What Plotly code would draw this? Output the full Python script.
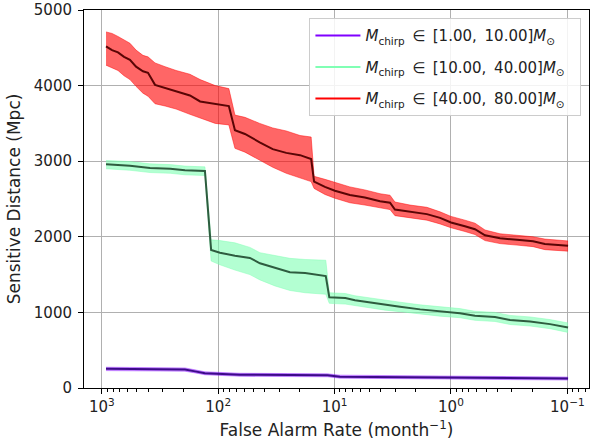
import plotly.graph_objects as go

# ---- data ----
far_low = [920, 573, 385, 258, 193, 158, 130, 65, 24.2, 11.5, 9.0, 1.0, 0.0986]
med_low = [255, 252, 250, 248, 245, 220, 195, 175, 170, 168, 150, 140, 125]
lo_low = [230, 228, 226, 224, 222, 200, 175, 155, 150, 148, 130, 120, 105]
hi_low = [275, 273, 271, 270, 266, 240, 215, 195, 190, 188, 170, 160, 145]

far_mid = [920, 573, 385, 258, 193, 130, 115, 96.6, 71.8, 53.4, 43.8, 32.5, 24.2, 17.9, 11.9,
           11.1, 8.09, 6.68, 4.96, 3.69, 2.74, 1.84, 1.24, 0.837, 0.622, 0.419, 0.311, 0.209, 0.141, 0.0986]
med_mid = [2960, 2940, 2910, 2900, 2880, 2870, 1825, 1790, 1750, 1720, 1650, 1590, 1530, 1520, 1480,
           1200, 1190, 1160, 1130, 1100, 1075, 1040, 1010, 990, 955, 940, 900, 880, 845, 800]
lo_mid = [2900, 2880, 2850, 2840, 2820, 2810, 1680, 1630, 1560, 1500, 1430, 1350, 1290, 1260, 1240,
          1120, 1110, 1090, 1060, 1030, 1010, 975, 950, 930, 895, 880, 840, 820, 785, 735]
hi_mid = [3010, 2995, 2965, 2955, 2935, 2925, 1960, 1950, 1920, 1860, 1790, 1750, 1715, 1700, 1690,
          1260, 1250, 1220, 1190, 1160, 1135, 1100, 1070, 1050, 1015, 1000, 960, 940, 905, 860]

far_high = [920, 817, 726, 644, 573, 508, 443, 401, 349, 286, 230, 175, 143, 106, 81,
            71.8, 58.9, 44.0, 34.0, 26.0, 19.8, 15.9,
            15.0, 12.1, 9.94, 7.39, 5.49, 4.07, 3.34, 3.03, 2.25, 1.61, 1.24, 1.0,
            0.759, 0.622, 0.51, 0.379, 0.271, 0.197, 0.156, 0.0986]
med_high = [4520, 4470, 4440, 4380, 4340, 4250, 4190, 4170, 4010, 3970, 3930, 3870, 3790, 3760, 3730,
            3410, 3360, 3250, 3160, 3110, 3080, 3030,
            2730, 2660, 2610, 2553, 2520, 2470, 2450, 2360, 2330, 2300, 2250, 2190,
            2140, 2100, 2020, 1980, 1960, 1940, 1905, 1880]
lo_high = [4270, 4230, 4200, 4130, 4080, 3990, 3900, 3860, 3760, 3730, 3690, 3620, 3570, 3500, 3480,
           3170, 3120, 3010, 2920, 2840, 2780, 2730,
           2640, 2560, 2510, 2450, 2420, 2380, 2360, 2280, 2250, 2220, 2170, 2120,
           2070, 2030, 1950, 1910, 1890, 1870, 1830, 1810]
hi_high = [4710, 4690, 4650, 4600, 4560, 4470, 4400, 4380, 4300, 4250, 4200, 4150, 4080, 4000, 3960,
           3610, 3580, 3500, 3440, 3400, 3340, 3320,
           2800, 2760, 2720, 2660, 2620, 2570, 2550, 2460, 2420, 2390, 2330, 2270,
           2220, 2180, 2090, 2040, 2020, 2000, 1970, 1945]

labels = ["<i>M</i><sub>chirp</sub>\u2002∈\u2002[1.00,\u2009 10.00]<i>M</i><sub>⊙</sub>\u2002\u2009",
          "<i>M</i><sub>chirp</sub>\u2002∈\u2002[10.00,\u2009 40.00]<i>M</i><sub>⊙</sub>\u2002\u2009",
          "<i>M</i><sub>chirp</sub>\u2002∈\u2002[40.00,\u2009 80.00]<i>M</i><sub>⊙</sub>\u2002\u2009"]
x_tickvals = [1000, 100, 10, 1, 0.1]
x_ticktext = ["10<sup>3</sup>", "10<sup>2</sup>", "10<sup>1</sup>", "10<sup>0</sup>", "10<sup>−1</sup>"]
y_tickvals = [0, 1000, 2000, 3000, 4000, 5000]

series = [
    (far_low, med_low, lo_low, hi_low, "#8000ff", "rgba(128,0,255,0.45)", "#3d0a8a"),
    (far_mid, med_mid, lo_mid, hi_mid, "#80ffb4", "rgba(128,255,180,0.6)", "#2e5c3f"),
    (far_high, med_high, lo_high, hi_high, "#ff0000", "rgba(255,0,0,0.6)", "#5a0505"),
]

fig = go.Figure()
for i, (fx, md, lo, hi, col, fill, dark) in enumerate(series):
    fig.add_trace(go.Scatter(x=fx, y=lo, mode="lines", line=dict(color=fill, width=0.8),
                             showlegend=False, hoverinfo="skip"))
    fig.add_trace(go.Scatter(x=fx, y=hi, mode="lines", line=dict(color=fill, width=0.8),
                             fill="tonexty", fillcolor=fill, showlegend=False, hoverinfo="skip"))
for i, (fx, md, lo, hi, col, fill, dark) in enumerate(series):
    fig.add_trace(go.Scatter(x=fx, y=md, mode="lines", line=dict(color=dark, width=2),
                             showlegend=False))
for i, (fx, md, lo, hi, col, fill, dark) in enumerate(series):
    fig.add_trace(go.Scatter(x=[None], y=[None], mode="lines", line=dict(color=col, width=2),
                             name=labels[i], legendgroup=f"g{i}"))

font = "DejaVu Sans, Verdana, sans-serif"
fig.update_layout(
    width=591, height=448,
    margin=dict(l=84, r=2, t=10, b=60),
    paper_bgcolor="white", plot_bgcolor="white",
    font=dict(family=font, size=14.3, color="#222222"),
    showlegend=True,
    legend=dict(x=0.985, y=0.978, xanchor="right", yanchor="top",
                bgcolor="rgba(255,255,255,0.85)", bordercolor="#cccccc", borderwidth=1,
                font=dict(family=font, size=15, color="#222222"), tracegroupgap=9, itemwidth=45),
)
fig.update_xaxes(type="log", range=[3.153, -1.186], autorange=False,
                 tickvals=x_tickvals, ticktext=x_ticktext,
                 tickfont=dict(family=font, size=15, color="#222222"),
                 ticks="outside", ticklen=5, tickcolor="black",
                 showgrid=True, gridcolor="#b0b0b0", gridwidth=1,
                 showline=True, linecolor="black", linewidth=1, mirror=True,
                 minor=dict(ticks="outside", ticklen=3, tickcolor="black", dtick="D1", showgrid=False),
                 title_text="False Alarm Rate (month<sup>−1</sup>)", title_standoff=9,
                 zeroline=False)
fig.update_yaxes(range=[0, 5000], tickvals=y_tickvals,
                 tickfont=dict(family=font, size=15, color="#222222"),
                 ticks="outside", ticklen=5, tickcolor="black", ticklabelstandoff=3,
                 showgrid=True, gridcolor="#b0b0b0", gridwidth=1,
                 showline=True, linecolor="black", linewidth=1, mirror=True,
                 title_text="Sensitive Distance (Mpc)", title_standoff=8,
                 zeroline=False)

fig.write_html("out.html")
